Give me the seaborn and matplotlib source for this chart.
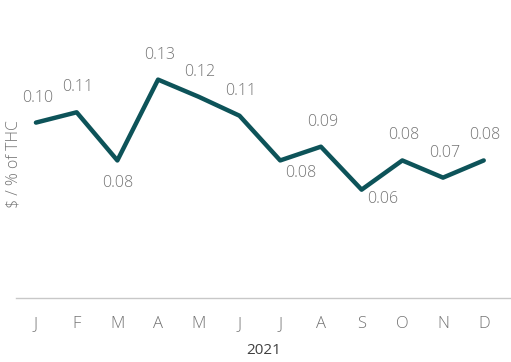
import matplotlib
matplotlib.use("Agg")
import matplotlib.pyplot as plt
import seaborn as sns
import pandas as pd

# data
months = ["J", "F", "M", "A", "M", "J", "J", "A", "S", "O", "N", "D"]
values = [0.102, 0.108, 0.080, 0.127, 0.117, 0.106, 0.080, 0.088, 0.063, 0.080, 0.070, 0.080]
labels = ["0.10", "0.11", "0.08", "0.13", "0.12", "0.11", "0.08", "0.09", "0.06", "0.08", "0.07", "0.08"]

df = pd.DataFrame({"idx": range(len(months)), "value": values})

sns.set_theme(style="white")
plt.rcParams["font.family"] = ["Open Sans", "DejaVu Sans"]

gray = "#747474"
teal = "#0d5359"

fig = plt.figure(figsize=(5.11, 3.62), dpi=100)
ax = fig.add_axes([16 / 511, 1 - 298 / 362, 495 / 511, 298 / 362])

sns.lineplot(data=df, x="idx", y="value", color=teal, linewidth=3.2, ax=ax)

# label offsets in points (dx, dy): above by default, a few sit below
offsets = {2: (0, -16), 6: (15, -9), 8: (15, -7)}
for i, (v, lab) in enumerate(zip(values, labels)):
    dx, dy = offsets.get(i, (1, 18))
    ax.annotate(lab, (i, v), xytext=(dx, dy), textcoords="offset points",
                ha="center", va="center", fontsize=11.5, color=gray, fontweight="light")

ax.set_xlim(-0.49, 11.67)
ax.set_ylim(0, 0.1733)
ax.set_xticks(range(len(months)))
ax.set_xticklabels(months, color=gray, fontsize=12, fontweight="light")
ax.set_yticks([])
ax.tick_params(axis="x", length=0, pad=13)

ax.set_xlabel("2021", color="#404040", fontsize=11, labelpad=8)
ax.set_ylabel("$ / % of THC", color=gray, fontsize=11.5, fontweight="light")
ax.yaxis.set_label_coords(0.012, 0.45)

for s in ["top", "right", "left"]:
    ax.spines[s].set_visible(False)
ax.spines["bottom"].set_color("#c8c8c8")
ax.spines["bottom"].set_linewidth(1)

fig.savefig("out.png", dpi=100)
